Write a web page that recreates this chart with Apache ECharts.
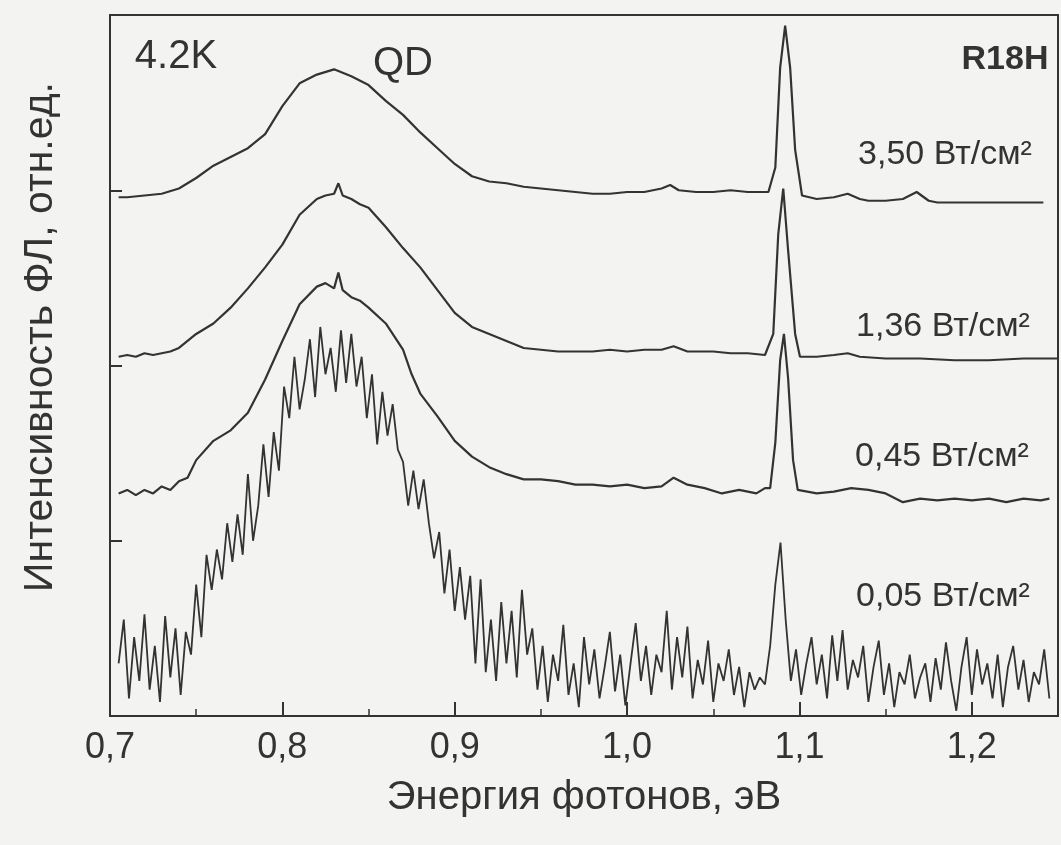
<!DOCTYPE html>
<html>
<head>
<meta charset="utf-8">
<script src="https://cdn.jsdelivr.net/npm/echarts@6/dist/echarts.min.js"></script>
<style>
  html, body { margin: 0; padding: 0; background: #f3f3f1; }
  #chart { width: 1061px; height: 845px; }
</style>
</head>
<body>
<div id="chart"></div>
<script>
// PL spectra, R18H, 4.2K (curves offset vertically, arb. units)
const e350 = [0.705,0.71,0.72,0.73,0.74,0.75,0.76,0.77,0.78,0.79,0.80,0.81,0.82,0.83,0.84,0.85,0.86,0.87,0.88,0.89,0.90,0.91,0.92,0.93,0.94,0.95,0.96,0.97,0.98,0.99,1.00,1.01,1.02,1.025,1.03,1.04,1.05,1.06,1.07,1.08,1.082,1.086,1.0888,1.0917,1.0946,1.0975,1.1015,1.11,1.12,1.128,1.135,1.14,1.15,1.16,1.168,1.175,1.18,1.20,1.22,1.2415];
const v350 = [2.96,2.96,2.97,2.98,3.01,3.07,3.14,3.19,3.24,3.32,3.48,3.61,3.66,3.69,3.65,3.60,3.51,3.43,3.33,3.24,3.15,3.08,3.05,3.04,3.02,3.01,3.00,2.99,2.98,2.98,2.99,2.99,3.01,3.03,3.00,2.99,2.99,3.00,2.99,2.99,2.99,3.13,3.70,3.94,3.70,3.23,2.97,2.95,2.96,2.98,2.95,2.94,2.94,2.95,2.99,2.94,2.93,2.93,2.93,2.93];

const e136 = [0.705,0.71,0.715,0.72,0.725,0.73,0.735,0.74,0.75,0.76,0.77,0.78,0.79,0.80,0.81,0.82,0.825,0.83,0.8325,0.835,0.84,0.845,0.85,0.86,0.87,0.88,0.89,0.90,0.91,0.92,0.93,0.94,0.95,0.96,0.97,0.98,0.99,1.00,1.01,1.02,1.027,1.035,1.05,1.06,1.07,1.08,1.0848,1.0877,1.0906,1.0934,1.0975,1.1003,1.11,1.12,1.128,1.135,1.15,1.17,1.19,1.21,1.23,1.25];
const v136 = [2.05,2.06,2.05,2.07,2.06,2.07,2.08,2.10,2.18,2.24,2.33,2.44,2.56,2.69,2.86,2.95,2.97,2.98,3.04,2.97,2.95,2.92,2.90,2.79,2.67,2.56,2.43,2.30,2.22,2.18,2.14,2.10,2.09,2.08,2.08,2.08,2.09,2.08,2.09,2.09,2.11,2.08,2.08,2.07,2.07,2.06,2.18,2.75,3.01,2.66,2.18,2.05,2.05,2.06,2.07,2.05,2.04,2.04,2.03,2.03,2.04,2.04];

const e045 = [0.705,0.71,0.715,0.72,0.725,0.73,0.735,0.74,0.745,0.75,0.76,0.77,0.78,0.79,0.80,0.81,0.82,0.825,0.83,0.8325,0.835,0.84,0.845,0.85,0.86,0.87,0.875,0.88,0.89,0.90,0.91,0.92,0.93,0.94,0.95,0.96,0.97,0.98,0.99,1.00,1.01,1.02,1.027,1.035,1.045,1.055,1.065,1.075,1.08,1.083,1.086,1.0888,1.091,1.0934,1.0963,1.099,1.11,1.12,1.13,1.14,1.15,1.16,1.17,1.18,1.19,1.20,1.21,1.22,1.23,1.24,1.245];
const v045 = [1.27,1.29,1.26,1.29,1.27,1.31,1.29,1.34,1.36,1.46,1.57,1.63,1.73,1.92,2.14,2.35,2.45,2.47,2.44,2.53,2.43,2.39,2.37,2.33,2.24,2.09,1.95,1.84,1.71,1.57,1.48,1.42,1.38,1.35,1.35,1.34,1.32,1.32,1.31,1.32,1.30,1.31,1.36,1.32,1.30,1.27,1.29,1.27,1.30,1.30,1.56,2.03,2.18,1.93,1.46,1.29,1.27,1.28,1.30,1.29,1.27,1.22,1.24,1.23,1.24,1.23,1.24,1.22,1.24,1.23,1.24];

const e005 = [0.705,0.708,0.711,0.714,0.717,0.720,0.723,0.726,0.729,0.732,
  0.735,0.738,0.741,0.744,0.747,0.750,0.753,0.756,0.759,0.762,
  0.765,0.768,0.771,0.774,0.777,0.780,0.783,0.786,0.789,0.792,
  0.795,0.798,0.801,0.804,0.807,0.810,0.813,0.816,0.819,0.822,
  0.825,0.828,0.831,0.834,0.837,0.840,0.843,0.846,0.849,0.852,
  0.855,0.858,0.861,0.864,0.867,0.870,0.873,0.876,0.879,0.882,
  0.885,0.888,0.891,0.894,0.897,0.900,0.903,0.906,0.909,0.912,
  0.915,0.918,0.921,0.924,0.927,0.930,0.933,0.936,0.939,0.942,
  0.945,0.948,0.951,0.954,0.957,0.960,0.963,0.966,0.969,0.972,
  0.975,0.978,0.981,0.984,0.987,0.990,0.993,0.996,0.999,1.002,
  1.005,1.008,1.011,1.014,1.017,1.020,1.023,1.026,1.029,1.032,
  1.035,1.038,1.041,1.044,1.047,1.050,1.053,1.056,1.059,1.062,
  1.065,1.068,1.071,1.074,1.077,1.080,1.083,1.086,1.089,1.092,
  1.095,1.098,1.101,1.104,1.107,1.110,1.113,1.116,1.119,1.122,
  1.125,1.128,1.131,1.134,1.137,1.140,1.143,1.146,1.149,1.152,
  1.155,1.158,1.161,1.164,1.167,1.170,1.173,1.176,1.179,1.182,
  1.185,1.188,1.191,1.194,1.197,1.200,1.203,1.206,1.209,1.212,
  1.215,1.218,1.221,1.224,1.227,1.230,1.233,1.236,1.239,1.242,
  1.245];
const v005 = [0.30,0.55,0.10,0.45,0.20,0.58,0.15,0.40,0.08,0.57,
  0.22,0.50,0.12,0.48,0.35,0.75,0.45,0.92,0.72,0.95,
  0.78,1.10,0.88,1.15,0.92,1.38,1.00,1.20,1.55,1.25,
  1.62,1.40,1.88,1.70,2.05,1.75,1.92,2.15,1.82,2.22,
  1.95,2.10,1.85,2.20,1.90,2.18,1.88,2.05,1.70,1.95,
  1.55,1.85,1.60,1.78,1.52,1.45,1.20,1.40,1.18,1.35,
  1.10,0.90,1.05,0.70,0.95,0.60,0.85,0.55,0.80,0.30,
  0.78,0.25,0.55,0.20,0.65,0.30,0.60,0.22,0.72,0.35,
  0.50,0.15,0.40,0.08,0.35,0.20,0.52,0.12,0.30,0.05,
  0.45,0.18,0.38,0.10,0.28,0.48,0.14,0.35,0.06,0.30,
  0.53,0.20,0.40,0.12,0.35,0.25,0.60,0.15,0.45,0.22,
  0.51,0.10,0.32,0.18,0.43,0.08,0.30,0.20,0.38,0.12,
  0.28,0.05,0.25,0.15,0.22,0.18,0.40,0.75,0.99,0.55,
  0.20,0.38,0.12,0.30,0.45,0.18,0.35,0.10,0.46,0.20,
  0.49,0.15,0.32,0.22,0.40,0.08,0.28,0.43,0.12,0.30,
  0.05,0.25,0.18,0.35,0.10,0.22,0.30,0.08,0.33,0.15,
  0.42,0.20,0.03,0.28,0.45,0.12,0.38,0.18,0.30,0.10,
  0.35,0.05,0.28,0.40,0.15,0.32,0.08,0.25,0.18,0.38,
  0.10];

const xTicks = [0.7, 0.8, 0.9, 1.0, 1.1, 1.2];

const ink = "#333";
const pairs = (xs, ys) => xs.map((x, i) => [x, ys[i]]);
const curve = (data, width) => ({
  type: "line",
  data: data,
  showSymbol: false,
  symbol: "none",
  lineStyle: { color: ink, width: width },
});
const label = (text, x, y, font) => ({
  type: "text", x: x, y: y,
  style: { text: text, fill: ink, font: font,
    align: "center", verticalAlign: "middle", textAlign: "center", textVerticalAlign: "middle" },
});

const chart = echarts.init(document.getElementById("chart"));
chart.setOption({
  animation: false,
  backgroundColor: "#f3f3f1",
  grid: {
    left: 110, top: 15, bottom: 129, right: -4,
    show: true, borderColor: "#333", borderWidth: 2,
  },
  xAxis: {
    type: "value",
    min: 0.7,
    max: 1.25,
    interval: 0.1,
    axisLine: { lineStyle: { color: "#333", width: 2 } },
    axisTick: { inside: true, length: 14, lineStyle: { color: "#333", width: 2 } },
    minorTick: { show: true, splitNumber: 2, length: 7, lineStyle: { color: "#333", width: 1.5 } },
    splitLine: { show: false },
    axisLabel: {
      color: ink,
      fontSize: 36,
      fontFamily: "Liberation Sans",
      margin: 14,
      formatter: (v) => {
        const hit = xTicks.find((t) => Math.abs(t - v) < 1e-6);
        return hit === undefined ? "" : hit.toFixed(1).replace(".", ",");
      },
    },
    name: "Энергия фотонов, эВ",
    nameLocation: "middle",
    nameGap: 62,
    nameTextStyle: { color: ink, fontSize: 40, fontFamily: "Liberation Sans" },
  },
  yAxis: {
    type: "value",
    min: 0,
    max: 4,
    interval: 1,
    axisLine: { show: true, lineStyle: { color: "#333", width: 2 } },
    axisTick: { show: true, inside: true, length: 12, lineStyle: { color: "#333", width: 2 } },
    axisLabel: { show: false },
    splitLine: { show: false },
  },
  graphic: [
    Object.assign(label("Интенсивность ФЛ, отн.ед.", 41, 337, "41px 'Liberation Sans'"), { rotation: Math.PI / 2 }),
    label("4.2K", 176, 57, "40px 'Liberation Sans'"),
    label("QD", 403, 64, "40px 'Liberation Sans'"),
    label("R18H", 1005, 60, "bold 34px 'Liberation Sans'"),
    label("3,50 Вт/см²", 945, 155, "34px 'Liberation Sans'"),
    label("1,36 Вт/см²", 943, 327, "34px 'Liberation Sans'"),
    label("0,45 Вт/см²", 942, 457, "34px 'Liberation Sans'"),
    label("0,05 Вт/см²", 943, 597, "34px 'Liberation Sans'"),
  ],
  series: [
    curve(pairs(e005, v005), 1.8),
    curve(pairs(e045, v045), 2.2),
    curve(pairs(e136, v136), 2.2),
    curve(pairs(e350, v350), 2.2),
  ],
});
</script>
</body>
</html>
